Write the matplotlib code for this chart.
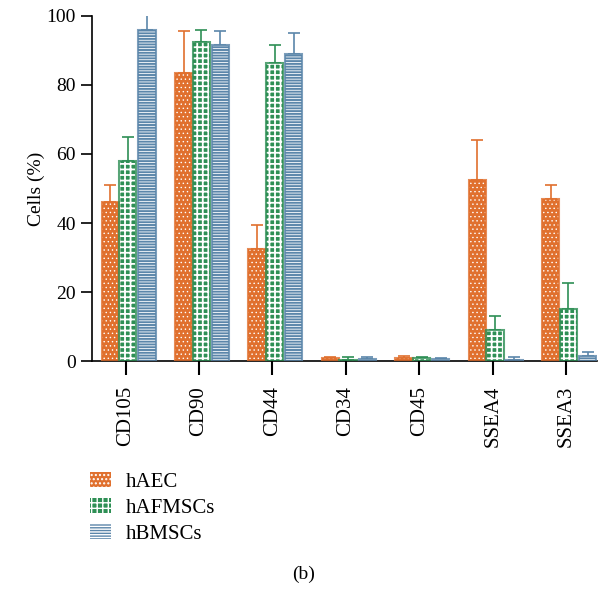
import matplotlib
matplotlib.use("Agg")
import matplotlib.pyplot as plt
import numpy as np

plt.rcParams['font.family'] = ['Liberation Serif', 'DejaVu Serif']

# donnees
marqueurs = ["CD105", "CD90", "CD44", "CD34", "CD45", "SSEA4", "SSEA3"]
series = ["hAEC", "hAFMSCs", "hBMSCs"]
haec = [46, 83.5, 32.5, 0.8, 1.0, 52.5, 47]
haec_err = [5, 12, 7, 0.3, 0.5, 11.5, 4]
hafmscs = [58, 92.5, 86.5, 0.3, 0.8, 9, 15]
hafmscs_err = [7, 3.5, 5, 0.8, 0.5, 4, 7.5]
hbmscs = [96, 91.5, 89, 0.7, 0.5, 0.3, 1.5]
hbmscs_err = [5, 4, 6, 0.5, 0.5, 0.8, 1]

couleurs = ["#E0702E", "#2E8F55", "#5B86AA"]
motifs = ["....", "+++", "------"]
epaisseurs = [0.5, 1.3, 0.6]

fig = plt.figure(figsize=(6.08, 5.90), dpi=100)
ax = fig.add_axes([0.151, 0.388, 0.831, 0.585])

x = np.arange(len(marqueurs))
decalages = [-0.21, 0.03, 0.29]
largeur = 0.235
valeurs = [haec, hafmscs, hbmscs]
erreurs = [haec_err, hafmscs_err, hbmscs_err]

poignees = []
for i in range(3):
    pos = x + decalages[i]
    with plt.rc_context({'hatch.linewidth': epaisseurs[i]}):
        # remplissage + motif blanc
        ax.bar(pos, valeurs[i], largeur, facecolor=couleurs[i], edgecolor="white",
               hatch=motifs[i], linewidth=0, zorder=2)
        p = plt.Rectangle((0, 0), 1, 1, facecolor=couleurs[i], edgecolor="white",
                          hatch=motifs[i], linewidth=0)
        poignees.append(p)
    # contour colore
    ax.bar(pos, valeurs[i], largeur, fill=False, edgecolor=couleurs[i],
           linewidth=1.5, alpha=0.8, zorder=3)
    ax.errorbar(pos, valeurs[i], yerr=[np.zeros(len(x)), erreurs[i]], fmt="none",
                ecolor=couleurs[i], elinewidth=1.2, capsize=4, capthick=1.2, zorder=1)

ax.set_xlim(-0.46, 6.42)
ax.set_ylim(0, 100)
ax.set_yticks([0, 20, 40, 60, 80, 100])
ax.set_xticks(x)
ax.set_xticklabels(marqueurs, rotation=90, fontsize=15)
ax.tick_params(axis="y", labelsize=14, length=8, width=1.2, direction="out")
ax.tick_params(axis="x", length=10, width=1.5, direction="out", pad=8)
ax.set_ylabel("Cells (%)", fontsize=14, labelpad=1)
ax.spines["top"].set_visible(False)
ax.spines["right"].set_visible(False)
ax.spines["left"].set_linewidth(1.2)
ax.spines["bottom"].set_linewidth(1.2)

# legende sous le graphique
leg = fig.legend(poignees, series, loc="upper left", bbox_to_anchor=(0.117, 0.231),
                 frameon=False, fontsize=15, handlelength=1.0, handleheight=0.7,
                 labelspacing=0.3, handletextpad=0.7)

fig.text(0.5, 0.018, "(b)", ha="center", fontsize=14)

fig.savefig("out.png", dpi=100)
